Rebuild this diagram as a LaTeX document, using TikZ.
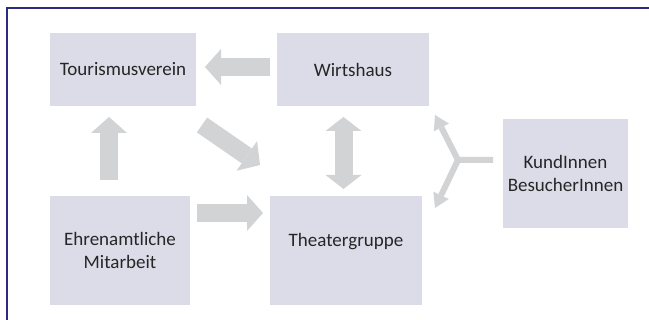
\documentclass[tikz,border=0pt]{standalone}
\usepackage{fontspec}
\setmainfont{Carlito}
\usetikzlibrary{positioning,arrows.meta}
\definecolor{boxC}{HTML}{DCDCE9}
\definecolor{arrC}{HTML}{D2D3D5}
\definecolor{frameC}{HTML}{2B2B80}
\definecolor{txtC}{HTML}{262626}
\tikzset{
  box/.style={fill=boxC, align=center, text=txtC, inner sep=2pt, outer sep=0pt,
              font=\fontsize{19}{23}\selectfont, anchor=north west},
  blockarr/.style={draw=arrC, line width=18pt,
                   -{Triangle[length=16pt,width=36pt,line width=0pt]}},
  forkline/.style={draw=arrC, line width=6pt, line join=round},
  forkarr/.style={forkline, -{Triangle[length=14pt,width=17pt,line width=0pt]}},
  frame/.style={draw=frameC, line width=2pt},
}
\begin{document}
\begin{tikzpicture}[x=1pt, y=-1pt]
\useasboundingbox (0,0) rectangle (649,320);
\draw[frame] (649,8) -| (7,320);
% boxes
\node[box, minimum width=146pt, minimum height=73pt] (tour) at (50,33) {Tourismusverein};
\node[box, minimum width=152pt, minimum height=73pt] (wirt) at (277,33) {Wirtshaus};
\node[box, minimum width=125pt, minimum height=109pt] (kund) at (503,119) {KundInnen\\BesucherInnen};
\node[box, minimum width=140pt, minimum height=109pt] (ehren) at (50,196) {Ehrenamtliche\\Mitarbeit};
\node[box, minimum width=152pt, minimum height=109pt, text depth=22pt] (theater) at (270,196) {Theatergruppe};
% block arrows
\draw[blockarr] ([shift={(-7,-2.5)}]wirt.west) -- ([shift={(9,-2.5)}]tour.east);
\draw[blockarr] ([shift={(-11,-16)}]ehren.north) -- ([shift={(-14,11)}]tour.south);
\draw[blockarr] ([shift={(7,-37.5)}]ehren.east) -- ([shift={(-7,-37.5)}]theater.west);
\draw[blockarr] ([shift={(6,19)}]tour.south east) -- ([shift={(-10,-31)}]theater.north west);
\draw[blockarr, {Triangle[length=14pt,width=36pt,line width=0pt]}-{Triangle[length=14pt,width=36pt,line width=0pt]}]
  ([shift={(-9.5,11)}]wirt.south) -- ([shift={(-2.5,-7)}]theater.north);
% fork from the audience
\coordinate (fork) at (458,160);
\draw[forkarr] ([shift={(-10,-13.5)}]kund.west) -- (fork) -- ([shift={(6,9)}]wirt.south east);
\draw[forkarr] (fork) -- ([shift={(13,12)}]theater.north east);
\end{tikzpicture}
\end{document}
